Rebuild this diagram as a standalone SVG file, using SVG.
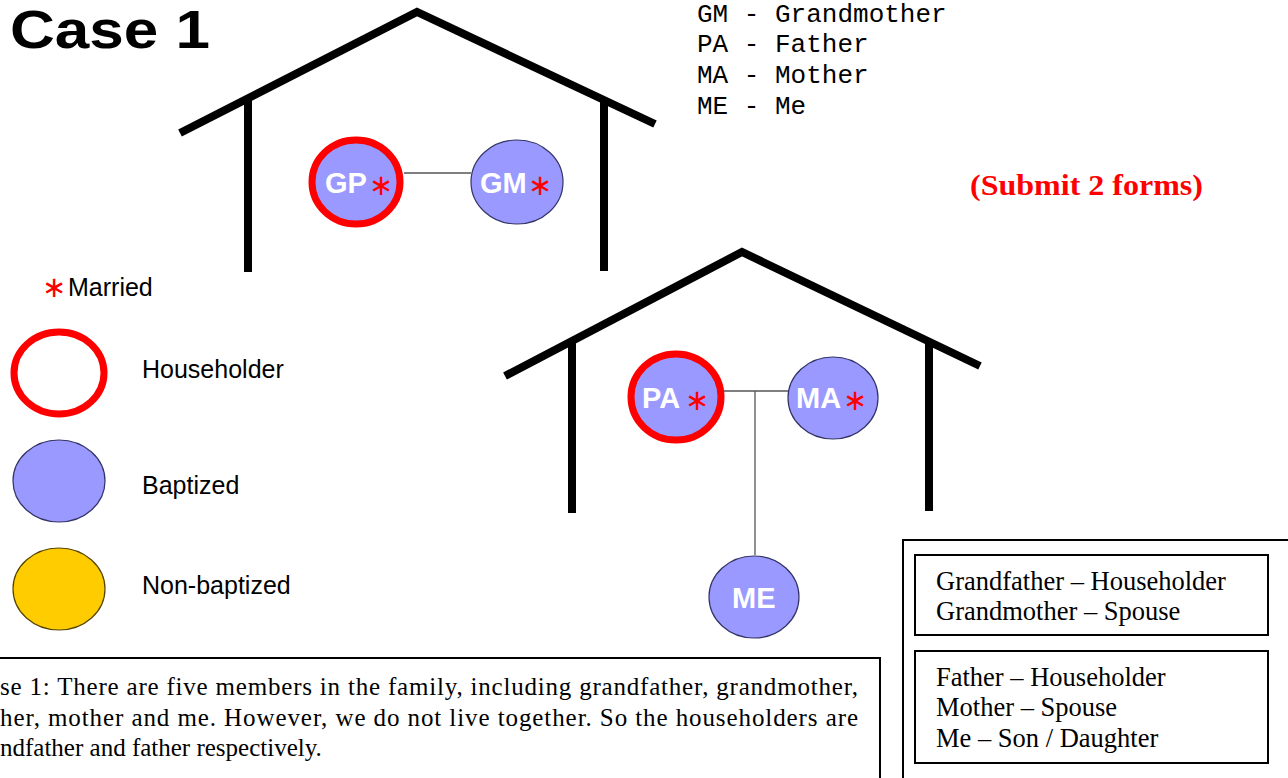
<svg xmlns="http://www.w3.org/2000/svg" width="1288" height="778" viewBox="0 0 1288 778">
<style>
.roof{fill:none;stroke:#000;stroke-width:8;stroke-linejoin:miter}
.wall{stroke:#000;stroke-width:8}
.bap{fill:#9999FF;stroke:#333366;stroke-width:1.2}
.hh{stroke:#FF0000;stroke-width:7}
.lbl{font-family:"Liberation Sans",Arial,sans-serif;font-weight:bold;font-size:29px;fill:#fff}
.ast{font-family:"DejaVu Sans",sans-serif;font-size:29px;fill:#FF0000}
.leg{font-family:"Liberation Sans",Arial,sans-serif;font-size:25px;fill:#000}
.code{font-family:"Liberation Mono","Courier New",monospace;font-size:26px;fill:#000}
.tm{font-family:"Liberation Serif","Times New Roman",serif;font-size:25px;fill:#000}
.tr{font-family:"Liberation Serif","Times New Roman",serif;font-size:26.5px;fill:#000}
.box{fill:#fff;stroke:#000;stroke-width:2}
.conn{stroke:#555;stroke-width:1.3;fill:none}
</style>
<rect width="1288" height="778" fill="#fff"/>
<text x="10" y="48" font-family="Liberation Sans,Arial,sans-serif" font-weight="bold" font-size="53" textLength="200" lengthAdjust="spacingAndGlyphs">Case 1</text>

<g id="house1">
<polyline class="roof" points="180,133 417,12 655,124"/>
<line class="wall" x1="248" y1="98" x2="248" y2="272"/>
<line class="wall" x1="604" y1="100" x2="604" y2="271"/>
</g>
<g id="house2">
<polyline class="roof" points="505,376 742,252 980,366"/>
<line class="wall" x1="572" y1="341" x2="572" y2="513"/>
<line class="wall" x1="929" y1="341" x2="929" y2="511"/>
</g>

<g id="connectors">
<line class="conn" x1="404" y1="173" x2="471" y2="173"/>
<line class="conn" x1="724" y1="391" x2="788" y2="391"/>
<line class="conn" x1="755" y1="391" x2="755" y2="555"/>
</g>

<g id="GP">
<ellipse class="bap hh" cx="356" cy="182" rx="44" ry="42"/>
<text class="lbl" x="325" y="193">GP</text>
<text class="ast" x="369" y="195">∗</text>
</g>
<g id="GM">
<ellipse class="bap" cx="517" cy="182" rx="46" ry="42"/>
<text class="lbl" x="480" y="193">GM</text>
<text class="ast" x="528" y="195">∗</text>
</g>
<g id="PA">
<ellipse class="bap hh" cx="676" cy="397" rx="45" ry="43"/>
<text class="lbl" x="642" y="408">PA</text>
<text class="ast" x="685" y="410">∗</text>
</g>
<g id="MA">
<ellipse class="bap" cx="833" cy="398" rx="45" ry="41"/>
<text class="lbl" x="796" y="408">MA</text>
<text class="ast" x="843" y="410">∗</text>
</g>
<g id="ME">
<ellipse class="bap" cx="754" cy="597" rx="45" ry="41"/>
<text class="lbl" x="732" y="608">ME</text>
</g>

<g id="abbrev">
<text class="code" x="697" y="22">GM - Grandmother</text>
<text class="code" x="697" y="52">PA - Father</text>
<text class="code" x="697" y="83">MA - Mother</text>
<text class="code" x="697" y="114">ME - Me</text>
</g>

<text x="970" y="195" font-family="Liberation Serif,Times New Roman,serif" font-weight="bold" font-size="30" fill="#FF0000" textLength="233" lengthAdjust="spacingAndGlyphs">(Submit 2 forms)</text>

<g id="legend">
<text class="ast" x="42" y="297">∗</text>
<text class="leg" x="68" y="296">Married</text>
<ellipse cx="59" cy="373" rx="45" ry="41" fill="#fff" stroke="#FF0000" stroke-width="7"/>
<text class="leg" x="142" y="378">Householder</text>
<ellipse class="bap" cx="59" cy="481" rx="46" ry="41"/>
<text class="leg" x="142" y="494">Baptized</text>
<ellipse cx="59" cy="589" rx="46" ry="41" fill="#FFCC00" stroke="#554400" stroke-width="1.2"/>
<text class="leg" x="142" y="594">Non-baptized</text>
</g>

<g id="note">
<rect class="box" x="-10" y="658" width="890" height="140"/>
<text class="tm" x="0" y="695" textLength="858" lengthAdjust="spacing">se 1: There are five members in the family, including grandfather, grandmother,</text>
<text class="tm" x="0" y="726" textLength="858" lengthAdjust="spacing">her, mother and me. However, we do not live together. So the householders are</text>
<text class="tm" x="0" y="756">ndfather and father respectively.</text>
</g>

<g id="roles">
<rect class="box" x="903" y="540" width="395" height="260"/>
<rect class="box" x="915" y="555" width="353" height="80"/>
<text class="tr" x="936" y="590">Grandfather – Householder</text>
<text class="tr" x="936" y="620">Grandmother – Spouse</text>
<rect class="box" x="915" y="651" width="353" height="112"/>
<text class="tr" x="936" y="686">Father – Householder</text>
<text class="tr" x="936" y="716">Mother – Spouse</text>
<text class="tr" x="936" y="747">Me – Son / Daughter</text>
</g>
</svg>
